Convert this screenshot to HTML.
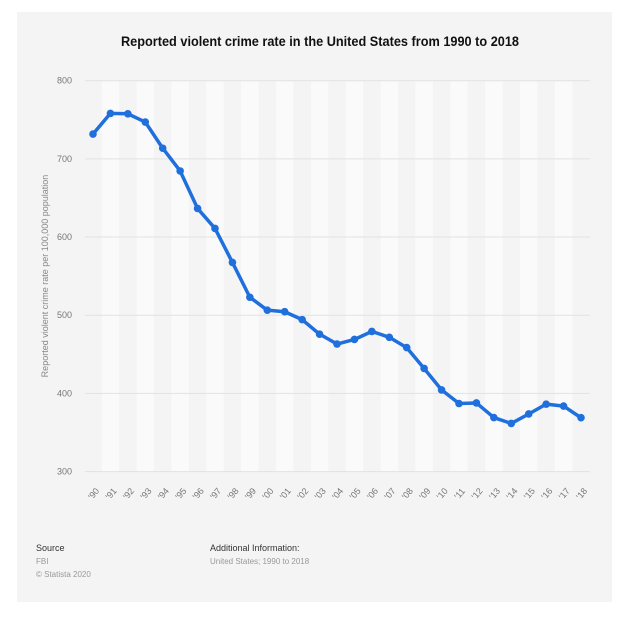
<!DOCTYPE html>
<html><head><meta charset="utf-8"><style>
body{margin:0;background:#fff;width:640px;height:619px;overflow:hidden;font-family:"Liberation Sans",sans-serif}
#panel{position:absolute;left:17px;top:12px;width:595px;height:590px;background:#f4f4f4}
</style></head><body>
<div id="panel"></div>
<svg id="chart" width="640" height="619" style="position:absolute;left:0;top:0">
<text x="320" y="46" text-anchor="middle" font-size="14" font-weight="bold" fill="#111" textLength="398" lengthAdjust="spacingAndGlyphs">Reported violent crime rate in the United States from 1990 to 2018</text>
<text transform="translate(48,276) rotate(-90)" text-anchor="middle" font-size="9" fill="#888">Reported violent crime rate per 100,000 population</text>
<g id="bands"></g><g id="grid"></g><g id="xt"></g><g id="series"></g>
<text x="36" y="551" font-size="9" fill="#333">Source</text>
<text x="36" y="564" font-size="8" fill="#999">FBI</text>
<text x="36" y="577" font-size="8" fill="#999">© Statista 2020</text>
<text x="210" y="551" font-size="9" fill="#333">Additional Information:</text>
<text x="210" y="564" font-size="8" fill="#999">United States; 1990 to 2018</text>
</svg>
<script>
const categories=["'90","'91","'92","'93","'94","'95","'96","'97","'98","'99","'00","'01","'02","'03","'04","'05","'06","'07","'08","'09","'10","'11","'12","'13","'14","'15","'16","'17","'18"];
const values=[731.8,758.2,757.7,747.1,713.6,684.5,636.6,611.0,567.6,523.0,506.5,504.5,494.4,475.8,463.2,469.0,479.3,471.8,458.6,431.9,404.5,387.1,387.8,369.1,361.6,373.7,386.3,383.8,368.9];
const yTicks=[300,400,500,600,700,800];
const NS="http://www.w3.org/2000/svg";
const x0=93,x1=581,yTop=80.7,yBot=471.6;
const step=(x1-x0)/(categories.length-1);
const xs=i=>x0+i*step;
const ys=v=>yBot-(v-300)/(500)*(yBot-yTop);
function mk(t,a,p){const e=document.createElementNS(NS,t);for(const k in a)e.setAttribute(k,a[k]);p.appendChild(e);return e;}
const bands=document.getElementById('bands'),grid=document.getElementById('grid'),xt=document.getElementById('xt'),ser=document.getElementById('series');
categories.forEach((c,i)=>{
  if(i%2===1){const r=mk('rect',{x:xs(i)-step/2,y:yTop,width:step,height:yBot-yTop,fill:'#fafafa'},bands);
  
  }
  const t=mk('text',{transform:`translate(${xs(i)+3},${yBot+24}) rotate(-50)`,'text-anchor':'middle','font-size':'9',fill:'#777'},xt);t.textContent=c;
  
  
});
yTicks.forEach(v=>{
  const l=mk('line',{x1:85,x2:590,y1:ys(v),y2:ys(v),stroke:'#e2e2e2','stroke-width':1},grid);
  
  
  const t=mk('text',{x:72,y:ys(v)+3,'text-anchor':'end','font-size':'9',fill:'#777'},grid);t.textContent=v;
  
  
});
const path=mk('polyline',{points:values.map((v,i)=>xs(i)+','+ys(v)).join(' '),fill:'none',stroke:'#1f6fdc','stroke-width':3.5,'stroke-linejoin':'round'},ser);


values.forEach((v,i)=>{
  const c=mk('circle',{cx:xs(i),cy:ys(v),r:3.8,fill:'#1f6fdc'},ser);
  
  
});
</script>
</body></html>
